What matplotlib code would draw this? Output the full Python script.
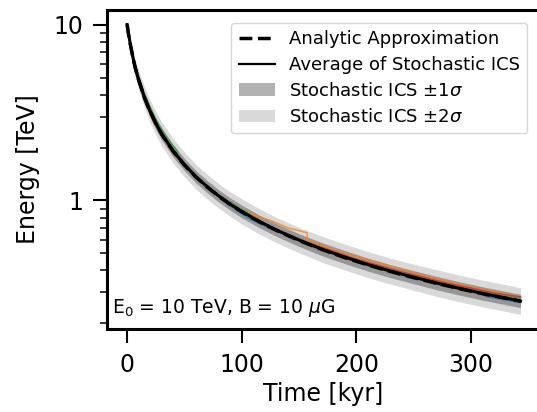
import numpy as np
import matplotlib
matplotlib.use("Agg")
from matplotlib import pyplot as plt
from matplotlib.patches import Patch
from matplotlib.lines import Line2D
from matplotlib.ticker import NullFormatter, FixedLocator

# time grid [kyr] and energies [TeV]
t_grid = [0, 1, 2, 3, 5, 7, 10, 15, 20, 25, 30, 40, 50, 60, 70, 80, 90, 100,
          115, 130, 150, 170, 190, 210, 230, 250, 270, 290, 310, 330, 343]
E_analytic = [10.0, 9.0, 8.25, 7.6, 6.54, 5.7, 4.85, 3.86, 3.21, 2.74, 2.39,
              1.91, 1.59, 1.36, 1.19, 1.055, 0.949, 0.862, 0.758, 0.677, 0.592,
              0.526, 0.473, 0.430, 0.394, 0.364, 0.338, 0.315, 0.295, 0.278, 0.268]
E_average = [10.0, 9.05, 8.3, 7.62, 6.55, 5.72, 4.87, 3.88, 3.22, 2.75, 2.40,
             1.92, 1.60, 1.365, 1.195, 1.06, 0.953, 0.866, 0.762, 0.680, 0.595,
             0.528, 0.476, 0.432, 0.396, 0.366, 0.339, 0.316, 0.296, 0.279, 0.268]
# 1 sigma spread of the stochastic runs, in dex
sigma_dex = [0.0, 0.006, 0.01, 0.013, 0.018, 0.022, 0.026, 0.03, 0.032, 0.033,
             0.034, 0.035, 0.035, 0.035, 0.035, 0.035, 0.035, 0.036, 0.036, 0.036,
             0.036, 0.037, 0.037, 0.037, 0.037, 0.037, 0.038, 0.038, 0.038, 0.038, 0.038]

# a few individual stochastic runs
t_run1 = [0, 5, 15, 30, 50, 70, 90, 105, 120, 150, 190, 230, 270, 312, 312, 343]
E_run1 = [10.0, 6.5, 3.9, 2.4, 1.58, 1.18, 0.93, 0.80, 0.715, 0.59, 0.475,
          0.398, 0.343, 0.300, 0.285, 0.263]
t_run2 = [0, 5, 15, 30, 50, 70, 90, 100, 110, 125, 140, 157, 157, 180, 220, 260, 300, 343]
E_run2 = [10.0, 6.5, 3.84, 2.38, 1.6, 1.2, 0.96, 0.88, 0.83, 0.77, 0.70, 0.655,
          0.60, 0.525, 0.44, 0.372, 0.322, 0.283]
t_run3 = [0, 3, 8, 15, 25, 35, 44, 44, 60, 80, 100, 107, 107, 130, 160, 200, 240, 280, 320, 343]
E_run3 = [10.0, 7.7, 5.55, 4.0, 2.88, 2.25, 1.9, 1.74, 1.37, 1.07, 0.885, 0.835,
          0.80, 0.68, 0.565, 0.458, 0.386, 0.333, 0.293, 0.278]
t_run4 = [0, 3, 8, 15, 25, 40, 60, 80, 100, 130, 160, 200, 240, 280, 320, 343]
E_run4 = [10.0, 7.3, 5.15, 3.7, 2.65, 1.86, 1.35, 1.05, 0.87, 0.685, 0.57,
          0.463, 0.392, 0.338, 0.298, 0.283]

runs = [(t_run1, E_run1, "tab:blue"), (t_run2, E_run2, "tab:orange"),
        (t_run3, E_run3, "tab:green"), (t_run4, E_run4, "tab:red")]

t = np.array(t_grid)
E_avg = np.array(E_average)
sig = np.array(sigma_dex)

fig = plt.figure(figsize=(5.37, 4.12), dpi=100)
ax = fig.add_axes([0.1993, 0.2015, 0.8063, 0.7742])

ax.fill_between(t, E_avg * 10**(-2 * sig), E_avg * 10**(2 * sig), color="k", alpha=0.15, lw=0)
ax.fill_between(t, E_avg * 10**(-sig), E_avg * 10**(sig), color="k", alpha=0.3, lw=0)

for tr, er, c in runs:
    ax.plot(tr, er, color=c, lw=1.1, alpha=0.8)

ax.plot(t_grid, E_average, "k-", lw=2.2)
ax.plot(t_grid, E_analytic, "k--", lw=2.5)

ax.set_yscale("log")
ax.set_xlim(-17.5, 360)
ax.set_ylim(0.186, 12.1)
ax.yaxis.set_major_locator(FixedLocator([1, 10]))
ax.set_yticklabels(["1", "10"])
ax.yaxis.set_minor_formatter(NullFormatter())
ax.set_xticks([0, 100, 200, 300])

for s in ax.spines.values():
    s.set_linewidth(2.2)
ax.tick_params(which="major", length=10, width=1.5, labelsize=17, pad=7)
ax.tick_params(which="minor", length=5, width=1.1)

ax.set_xlabel("Time [kyr]", fontsize=17, labelpad=4)
ax.set_ylabel("Energy [TeV]", fontsize=17, labelpad=10)

ax.text(0.012, 0.03, r"E$_0$ = 10 TeV, B = 10 $\mu$G", transform=ax.transAxes,
        fontsize=13.5, ha="left", va="bottom")

handles = [Line2D([], [], color="k", ls="--", lw=2.5),
           Line2D([], [], color="k", ls="-", lw=1.6),
           Patch(facecolor="k", alpha=0.3, lw=0),
           Patch(facecolor="k", alpha=0.15, lw=0)]
labels = ["Analytic Approximation", "Average of Stochastic ICS",
          r"Stochastic ICS $\pm 1\sigma$", r"Stochastic ICS $\pm 2\sigma$"]
ax.legend(handles, labels, loc="upper right", fontsize=13, borderaxespad=0.7,
          labelspacing=0.45)

fig.savefig("out.png", dpi=100)
